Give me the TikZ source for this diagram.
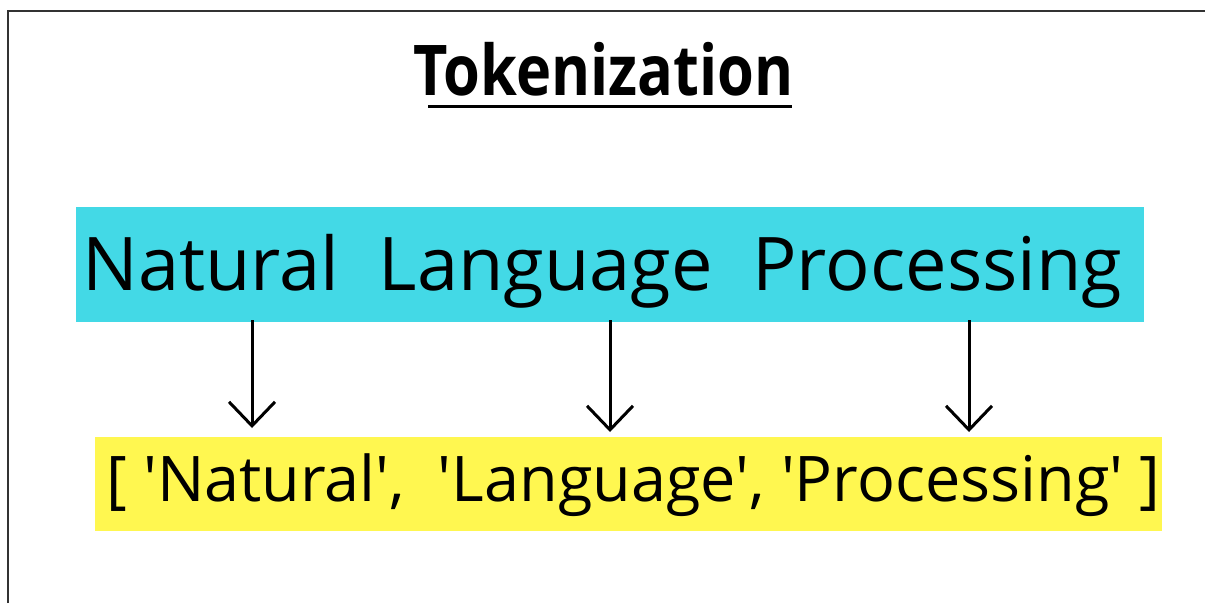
\documentclass[tikz,border=0pt]{standalone}
\usepackage{fontspec}
\setmainfont{Open Sans}[Ligatures=TeXOff]
\usetikzlibrary{arrows.meta}
\definecolor{boxcyan}{RGB}{67,217,230}
\definecolor{boxyellow}{RGB}{255,247,80}
\definecolor{frame}{RGB}{50,50,50}
\tikzset{
  framebox/.style={draw=frame, line width=1.5pt},
  cyanbox/.style={fill=boxcyan, draw=none, inner sep=0pt, minimum width=801pt, minimum height=86.25pt},
  yellowbox/.style={fill=boxyellow, draw=none, inner sep=0pt, minimum width=800.25pt, minimum height=70.5pt},
  tokarrow/.style={line width=2.25pt, -{Straight Barb[length=18pt, width=34.5pt, line width=2.25pt]}}
}
\begin{document}
\begin{tikzpicture}[x=0.75pt, y=-0.75pt]
\useasboundingbox (0,0) rectangle (1205,603);
\fill[white] (0,0) rectangle (1205,603);
% frame lines
\draw[framebox] (7.5,603) -- (7.5,10.5) -- (1205,10.5);
% title
\node[anchor=base west, inner sep=0pt, xscale=0.85, transform shape, font=\fontsize{52.5pt}{60pt}\selectfont\bfseries] (title) at (413,95) {Tokenization};
\coordinate (ulL) at (428,106.5);
\coordinate (ulR) at (792,106.5);
\draw[line width=2.5pt] (ulL) -- (ulR);
% source box
\node[cyanbox] (src) at (610,264.5) {};
\node[anchor=base west, inner sep=0pt, font=\fontsize{55.5pt}{62pt}\selectfont] (srctext) at (82,290)
  {\makebox[780pt][l]{Natural\hfill Language\hfill Processing}};
% token box
\node[yellowbox] (tok) at (628.5,484) {};
\node[anchor=base west, inner sep=0pt, font=\fontsize{47.2pt}{56pt}\selectfont] (toktext) at (106,501)
  {[ 'Natural',~ 'Language', 'Processing' ]};
% arrows
\coordinate (s1) at (252,320); \coordinate (e1) at (252,428);
\coordinate (s2) at (610,320); \coordinate (e2) at (610,432);
\coordinate (s3) at (969,320); \coordinate (e3) at (969,432);
\draw[tokarrow] (s1) -- (e1);
\draw[tokarrow] (s2) -- (e2);
\draw[tokarrow] (s3) -- (e3);
\end{tikzpicture}
\end{document}
